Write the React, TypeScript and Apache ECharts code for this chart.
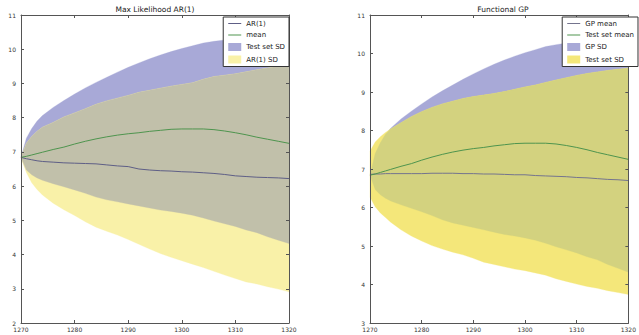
import React, { useEffect, useRef } from "react";
import * as echarts from "echarts";

const years = [1270, 1271, 1272, 1273, 1274, 1276, 1278, 1280, 1282, 1284, 1286, 1288, 1290, 1292, 1294, 1296, 1298, 1300, 1302, 1304, 1306, 1308, 1310, 1312, 1314, 1316, 1318, 1320];

// Test set mean (green line, both panels)
const testMean = [6.84, 6.87, 6.91, 6.95, 6.99, 7.07, 7.14, 7.23, 7.31, 7.38, 7.44, 7.49, 7.53, 7.56, 7.6, 7.63, 7.66, 7.67, 7.67, 7.67, 7.65, 7.61, 7.56, 7.5, 7.43, 7.37, 7.31, 7.25];
// Test set band (blue)
const testUpper = [6.84, 7.4, 7.68, 7.9, 8.06, 8.3, 8.5, 8.69, 8.87, 9.03, 9.18, 9.33, 9.47, 9.6, 9.72, 9.83, 9.93, 10.02, 10.1, 10.18, 10.23, 10.27, 10.28, 10.28, 10.26, 10.24, 10.21, 10.18];
const testLower = [6.84, 6.47, 6.33, 6.24, 6.17, 6.07, 5.98, 5.89, 5.79, 5.68, 5.6, 5.54, 5.48, 5.42, 5.36, 5.3, 5.26, 5.21, 5.15, 5.07, 4.98, 4.9, 4.82, 4.72, 4.64, 4.52, 4.42, 4.32];

// AR(1) panel
const arMean = [6.84, 6.8, 6.77, 6.74, 6.72, 6.7, 6.68, 6.67, 6.66, 6.65, 6.62, 6.59, 6.57, 6.5, 6.47, 6.45, 6.44, 6.42, 6.41, 6.39, 6.37, 6.34, 6.3, 6.28, 6.26, 6.25, 6.24, 6.22];
const arUpper = [6.84, 7.25, 7.45, 7.6, 7.72, 7.86, 8.02, 8.14, 8.26, 8.39, 8.49, 8.57, 8.65, 8.74, 8.8, 8.86, 8.92, 8.97, 9.02, 9.12, 9.2, 9.24, 9.28, 9.34, 9.4, 9.45, 9.5, 9.54];
const arLower = [6.82, 6.4, 6.1, 5.9, 5.74, 5.5, 5.31, 5.14, 4.96, 4.8, 4.68, 4.57, 4.44, 4.3, 4.16, 4.03, 3.92, 3.82, 3.72, 3.62, 3.51, 3.4, 3.3, 3.2, 3.14, 3.06, 2.99, 2.91];

// Functional GP panel
const gpMean = [6.86, 6.87, 6.87, 6.88, 6.88, 6.88, 6.88, 6.88, 6.89, 6.89, 6.89, 6.88, 6.88, 6.87, 6.87, 6.86, 6.85, 6.85, 6.83, 6.82, 6.81, 6.8, 6.78, 6.77, 6.75, 6.73, 6.72, 6.7];
const gpUpper = [7.46, 7.7, 7.84, 7.95, 8.04, 8.2, 8.36, 8.49, 8.6, 8.69, 8.76, 8.83, 8.88, 8.92, 8.96, 9.01, 9.07, 9.13, 9.18, 9.25, 9.31, 9.37, 9.43, 9.48, 9.52, 9.56, 9.59, 9.62];
const gpLower = [6.27, 6.02, 5.86, 5.74, 5.62, 5.42, 5.26, 5.13, 5.01, 4.92, 4.84, 4.77, 4.68, 4.58, 4.52, 4.46, 4.4, 4.36, 4.3, 4.24, 4.15, 4.08, 4.01, 3.95, 3.9, 3.84, 3.79, 3.74];

const leftTitle = "Max Likelihood AR(1)";
const rightTitle = "Functional GP";
const leftLegend = ["AR(1)", "mean", "Test set SD", "AR(1) SD"];
const rightLegend = ["GP mean", "Test set mean", "GP SD", "Test set SD"];

const BLUE = "#a8a9d7";
const PALE_YELLOW = "#f9f1a8";
const GRAY_OVERLAP = "#c1c0aa";
const YELLOW = "#f4e77a";
const OLIVE_OVERLAP = "#d3d27f";
const GREEN = "#4e944e";
const AR_LINE = "#5e5e86";
const GP_LINE = "#74748e";
const FONT = "DejaVu Sans";
const LINE_ICON = "path://M0,0 L13,0 L13,1 L0,1 Z";

function band(name: string, gi: number, lower: number[], upper: number[], color: string, z: number) {
  return {
    type: "custom",
    name,
    xAxisIndex: gi * 2,
    yAxisIndex: gi * 2,
    data: years.map((x, i) => [x, lower[i], upper[i]]),
    encode: { x: 0, y: [1, 2] },
    itemStyle: { color },
    z,
    silent: true,
    renderItem: (params: any, api: any) => {
      if (params.dataIndex !== 0) return null;
      const top = years.map((x, i) => api.coord([x, upper[i]]));
      const bottom = years.map((x, i) => api.coord([x, lower[i]])).reverse();
      return {
        type: "polygon",
        shape: { points: [...top, ...bottom] },
        style: { fill: color, stroke: color, lineWidth: 0.3 },
      };
    },
  };
}

function lineSeries(name: string, gi: number, arr: number[], color: string, z: number) {
  return {
    type: "line",
    name,
    xAxisIndex: gi * 2,
    yAxisIndex: gi * 2,
    data: years.map((x, i) => [x, arr[i]]),
    symbol: "none",
    showSymbol: false,
    lineStyle: { color, width: 1 },
    itemStyle: { color },
    z,
    silent: true,
  };
}

function axesFor(gi: number, ymin: number) {
  const common = {
    gridIndex: gi,
    type: "value",
    splitLine: { show: false },
    axisLine: { show: true, onZero: false, lineStyle: { color: "#555", width: 1 } },
    axisTick: { show: true, inside: true, length: 3, lineStyle: { color: "#555" } },
    z: 10,
  };
  const x = [
    {
      ...common,
      position: "bottom",
      min: 1270,
      max: 1320,
      interval: 10,
      axisLabel: { show: true, fontSize: 6, color: "#333", margin: 3, fontFamily: FONT, formatter: (v: number) => String(v) },
    },
    {
      ...common,
      position: "top",
      min: 1270,
      max: 1320,
      interval: 10,
      axisLabel: { show: false },
    },
  ];
  const y = [
    {
      ...common,
      position: "left",
      min: ymin,
      max: 11,
      interval: 1,
      axisLabel: { show: true, fontSize: 6, color: "#333", margin: 5, fontFamily: FONT },
    },
    {
      ...common,
      position: "right",
      min: ymin,
      max: 11,
      interval: 1,
      axisLabel: { show: false },
    },
  ];
  return { x, y };
}

export default function App() {
  const ref = useRef<HTMLDivElement>(null);
  useEffect(() => {
    if (!ref.current) return;
    const chart = echarts.init(ref.current, undefined, { renderer: "svg" });

    const a0 = axesFor(0, 2);
    const a1 = axesFor(1, 3);

    const overlapLower0 = testLower.map((v, i) => Math.max(v, arLower[i]));
    const overlapUpper0 = testUpper.map((v, i) => Math.min(v, arUpper[i]));
    const overlapLower1 = testLower.map((v, i) => Math.max(v, gpLower[i]));
    const overlapUpper1 = testUpper.map((v, i) => Math.min(v, gpUpper[i]));

    const legendCommon = {
      orient: "vertical",
      top: 17,
      itemWidth: 13,
      itemHeight: 8,
      itemGap: 4.5,
      padding: [3, 4, 3, 5],
      borderColor: "#333",
      borderWidth: 1,
      borderRadius: 0,
      backgroundColor: "#fff",
      selectedMode: false,
      textStyle: { fontSize: 7, color: "#222", fontFamily: FONT },
      z: 20,
    };

    const option: any = {
      animation: false,
      backgroundColor: "#fff",
      grid: [
        { left: 21, top: 15, width: 268, height: 308, show: false },
        { left: 370, top: 15, width: 267, height: 308, show: false },
      ],
      xAxis: [...a0.x, ...a1.x],
      yAxis: [...a0.y, ...a1.y],
      legend: [
        {
          ...legendCommon,
          right: 639 - 289,
          data: [
            { name: leftLegend[0], icon: LINE_ICON, itemStyle: { color: AR_LINE } },
            { name: leftLegend[1], icon: LINE_ICON, itemStyle: { color: GREEN } },
            { name: leftLegend[2], icon: "rect", itemStyle: { color: BLUE } },
            { name: leftLegend[3], icon: "rect", itemStyle: { color: PALE_YELLOW } },
          ],
        },
        {
          ...legendCommon,
          right: 1,
          data: [
            { name: rightLegend[0], icon: LINE_ICON, itemStyle: { color: GP_LINE } },
            { name: rightLegend[1], icon: LINE_ICON, itemStyle: { color: GREEN } },
            { name: rightLegend[2], icon: "rect", itemStyle: { color: BLUE } },
            { name: rightLegend[3], icon: "rect", itemStyle: { color: YELLOW } },
          ],
        },
      ],
      graphic: [
        {
          type: "text",
          x: 155,
          y: 9,
          style: { text: leftTitle, fontSize: 7.5, fill: "#222", fontFamily: FONT, textAlign: "center", textVerticalAlign: "middle", align: "center", verticalAlign: "middle" },
        },
        {
          type: "text",
          x: 503,
          y: 9,
          style: { text: rightTitle, fontSize: 7.5, fill: "#222", fontFamily: FONT, textAlign: "center", textVerticalAlign: "middle", align: "center", verticalAlign: "middle" },
        },
      ],
      series: [
        band(leftLegend[2], 0, testLower, testUpper, BLUE, 2),
        band(leftLegend[3], 0, arLower, arUpper, PALE_YELLOW, 3),
        band("_overlap0", 0, overlapLower0, overlapUpper0, GRAY_OVERLAP, 4),
        lineSeries(leftLegend[0], 0, arMean, AR_LINE, 6),
        lineSeries(leftLegend[1], 0, testMean, GREEN, 6),
        band(rightLegend[2], 1, testLower, testUpper, BLUE, 2),
        band(rightLegend[3], 1, gpLower, gpUpper, YELLOW, 3),
        band("_overlap1", 1, overlapLower1, overlapUpper1, OLIVE_OVERLAP, 4),
        lineSeries(rightLegend[0], 1, gpMean, GP_LINE, 6),
        lineSeries(rightLegend[1], 1, testMean, GREEN, 6),
      ],
    };
    chart.setOption(option);
    return () => chart.dispose();
  }, []);

  return (
    <div
      ref={ref}
      style={{ position: "absolute", left: 0, top: 0, width: 639, height: 335, background: "#fff" }}
    />
  );
}
